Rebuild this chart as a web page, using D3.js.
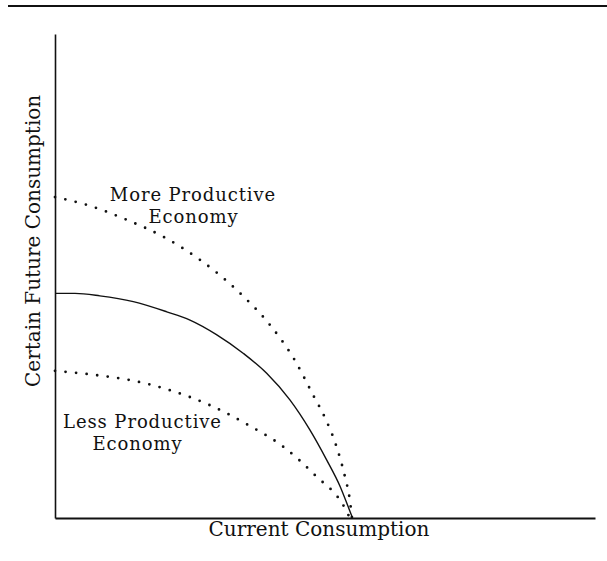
<!DOCTYPE html>
<html>
<head>
<meta charset="utf-8">
<script src="https://cdn.jsdelivr.net/npm/d3@7"></script>
<style>
  html, body { margin: 0; padding: 0; background: #fff; }
  svg { display: block; }
  text { font-family: "DejaVu Serif", "Liberation Serif", serif; fill: #111; }
</style>
</head>
<body>
<svg id="chart" width="607" height="561"></svg>
<script>
// ---- data (x: current consumption, y: certain future consumption; 0..100 units) ----
const xLabel = "Current Consumption";
const yLabel = "Certain Future Consumption";

const currentX = [0, 3.7, 8.3, 14.5, 20.7, 25.0, 29.9, 34.9, 39.2, 43.5, 47.2, 50.3, 52.8, 54.3, 55.1];
const currentY = [46.4, 46.4, 45.9, 44.7, 42.6, 40.9, 37.9, 34.0, 29.9, 24.4, 18.2, 12.0, 6.5, 2.3, 0];

const moreX = [0, 5.9, 13.3, 20.4, 26.9, 34.6, 39.8, 44.4, 47.8, 50.0, 52.2, 53.7, 54.6, 55.0];
const moreY = [66.3, 64.7, 61.6, 57.9, 53.3, 46.1, 39.9, 32.6, 25.4, 20.7, 14.5, 8.5, 3.7, 0];

const lessX = [0, 7.8, 13.9, 21.3, 28.7, 35.8, 42.3, 48.1, 53.7, 54.6];
const lessY = [30.4, 29.5, 28.5, 26.4, 23.3, 19.2, 14.7, 8.9, 2.0, 0];

const moreLabel = ["More Productive", "Economy"];
const lessLabel = ["Less Productive", "Economy"];

// ---- drawing ----
const svg = d3.select("#chart");
const x = d3.scaleLinear().domain([0, 100]).range([55, 595]);
const y = d3.scaleLinear().domain([0, 100]).range([518, 34]);

// header rule (cropped figure title area)
svg.append("line").attr("x1", 8).attr("x2", 607).attr("y1", 6).attr("y2", 6)
  .attr("stroke", "#111").attr("stroke-width", 2.2);

// axes (no ticks, just the lines)
svg.append("g").attr("transform", `translate(0,${y(0)})`)
  .call(d3.axisBottom(x).tickValues([]).tickSizeOuter(0))
  .call(g => g.select(".domain").attr("stroke", "#111").attr("stroke-width", 2));
svg.append("g").attr("transform", `translate(${x(0)},0)`)
  .call(d3.axisLeft(y).tickValues([]).tickSizeOuter(0))
  .call(g => g.select(".domain").attr("stroke", "#111").attr("stroke-width", 1.6));

const line = d3.line().x(d => x(d[0])).y(d => y(d[1])).curve(d3.curveMonotoneX);
const zip = (a, b) => a.map((v, i) => [v, b[i]]);

svg.append("path").datum(zip(currentX, currentY)).attr("d", line)
  .attr("fill", "none").attr("stroke", "#111").attr("stroke-width", 1.4);

[[moreX, moreY], [lessX, lessY]].forEach(([xs, ys]) => {
  svg.append("path").datum(zip(xs, ys)).attr("d", line)
    .attr("fill", "none").attr("stroke", "#111").attr("stroke-width", 2.8)
    .attr("stroke-linecap", "round").attr("stroke-dasharray", "0 10.6");
});

// labels
const fs = 20;
svg.append("text").attr("x", 319).attr("y", 536).attr("text-anchor", "middle")
  .attr("font-size", fs).text(xLabel);
svg.append("text").attr("transform", "translate(40,387) rotate(-90)")
  .attr("text-anchor", "start").attr("font-size", fs).text(yLabel);

const fsIn = 18;
function labelLine(txt, cx, by) {
  svg.append("text").attr("x", cx).attr("y", by).attr("text-anchor", "middle")
    .attr("font-size", fsIn).attr("letter-spacing", 0.9).text(txt);
}
labelLine(moreLabel[0], 193, 201);
labelLine(moreLabel[1], 193.5, 222.5);
labelLine(lessLabel[0], 142.5, 428);
labelLine(lessLabel[1], 137.5, 449.5);
</script>
</body>
</html>
